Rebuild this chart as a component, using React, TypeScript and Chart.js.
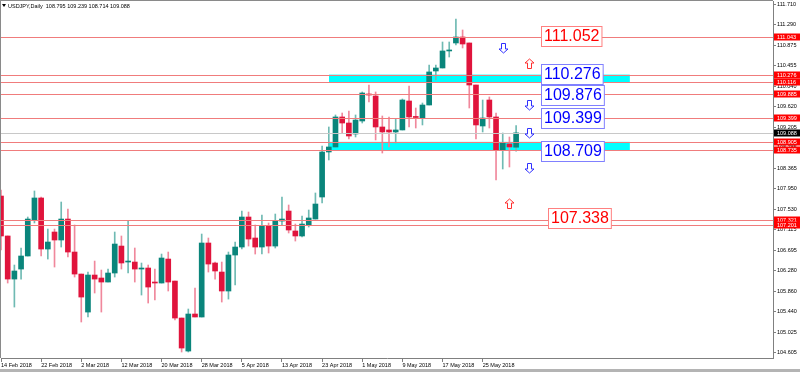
import React, { useEffect, useRef } from "react";
import { Chart, registerables } from "chart.js";

Chart.register(...registerables);

// ---- data ----
const dates = [
  "14 Feb 2018", "15 Feb 2018", "16 Feb 2018", "19 Feb 2018", "20 Feb 2018", "21 Feb 2018",
  "22 Feb 2018", "23 Feb 2018", "26 Feb 2018", "27 Feb 2018", "28 Feb 2018", "1 Mar 2018",
  "2 Mar 2018", "5 Mar 2018", "6 Mar 2018", "7 Mar 2018", "8 Mar 2018", "9 Mar 2018",
  "12 Mar 2018", "13 Mar 2018", "14 Mar 2018", "15 Mar 2018", "16 Mar 2018", "19 Mar 2018",
  "20 Mar 2018", "21 Mar 2018", "22 Mar 2018", "23 Mar 2018", "26 Mar 2018", "27 Mar 2018",
  "28 Mar 2018", "29 Mar 2018", "30 Mar 2018", "2 Apr 2018", "3 Apr 2018", "4 Apr 2018",
  "5 Apr 2018", "6 Apr 2018", "9 Apr 2018", "10 Apr 2018", "11 Apr 2018", "12 Apr 2018",
  "13 Apr 2018", "16 Apr 2018", "17 Apr 2018", "18 Apr 2018", "19 Apr 2018", "20 Apr 2018",
  "23 Apr 2018", "24 Apr 2018", "25 Apr 2018", "26 Apr 2018", "27 Apr 2018", "30 Apr 2018",
  "1 May 2018", "2 May 2018", "3 May 2018", "4 May 2018", "7 May 2018", "8 May 2018",
  "9 May 2018", "10 May 2018", "11 May 2018", "14 May 2018", "15 May 2018", "16 May 2018",
  "17 May 2018", "18 May 2018", "21 May 2018", "22 May 2018", "23 May 2018", "24 May 2018",
  "25 May 2018", "28 May 2018", "29 May 2018", "30 May 2018", "31 May 2018", "1 Jun 2018",
];

const opens = [
  107.800, 106.985, 106.107, 106.311, 106.577, 107.311, 107.760, 106.719, 107.066, 106.903,
  107.331, 106.658, 106.209, 105.434, 106.189, 106.128, 106.046, 106.230, 106.780, 106.454,
  106.454, 106.311, 106.332, 106.046, 106.026, 106.515, 106.066, 105.312, 104.639, 105.394,
  105.333, 106.842, 106.434, 106.250, 105.863, 106.597, 106.760, 107.372, 106.944, 106.760,
  107.189, 106.780, 107.290, 107.494, 107.087, 106.985, 107.209, 107.331, 107.780, 108.698,
  108.800, 109.412, 109.289, 109.065, 109.330, 109.881, 109.840, 109.208, 109.147, 109.106,
  109.147, 109.738, 109.412, 109.391, 109.656, 110.350, 110.411, 110.758, 110.921, 111.043,
  110.921, 110.064, 109.228, 109.758, 109.412, 108.739, 108.861, 108.795,
];
const highs = [
  107.923, 106.985, 106.393, 106.740, 107.372, 107.903, 107.780, 107.127, 107.127, 107.678,
  107.535, 107.209, 106.209, 106.250, 106.474, 106.291, 106.311, 107.066, 106.985, 107.290,
  106.740, 106.434, 106.393, 106.311, 106.617, 106.658, 106.066, 105.312, 105.496, 105.924,
  107.025, 106.944, 106.454, 106.454, 106.658, 106.862, 107.494, 107.474, 107.209, 107.413,
  107.250, 107.433, 107.780, 107.617, 107.229, 107.392, 107.515, 107.862, 108.820, 109.208,
  109.453, 109.493, 109.534, 109.453, 109.922, 110.064, 109.922, 109.432, 109.412, 109.371,
  109.779, 110.044, 109.595, 109.697, 110.472, 110.472, 110.941, 110.941, 111.410, 111.186,
  110.921, 110.064, 109.758, 109.820, 109.493, 109.085, 109.004, 109.239,
];
const lows = [
  106.699, 106.026, 105.536, 106.107, 106.577, 107.250, 106.577, 106.515, 106.352, 106.760,
  106.556, 106.148, 105.231, 105.333, 105.822, 105.434, 106.046, 106.148, 106.311, 106.230,
  106.046, 105.781, 105.618, 105.679, 106.026, 105.863, 105.271, 104.619, 104.619, 105.333,
  105.333, 106.250, 106.107, 105.638, 105.699, 105.985, 106.719, 106.780, 106.617, 106.617,
  106.638, 106.740, 107.209, 107.046, 106.882, 106.964, 107.168, 107.331, 107.658, 108.535,
  108.800, 109.085, 108.963, 109.004, 109.289, 109.718, 108.943, 108.677, 108.800, 108.881,
  109.147, 109.208, 109.187, 109.249, 109.656, 110.166, 110.411, 110.635, 110.880, 110.819,
  109.595, 108.963, 109.106, 109.187, 108.127, 108.351, 108.392, 108.714,
];
const closes = [
  106.985, 106.107, 106.271, 106.577, 107.331, 107.760, 106.719, 106.862, 106.903, 107.331,
  106.658, 106.209, 105.740, 106.189, 106.107, 106.046, 106.230, 106.821, 106.434, 106.464,
  106.311, 106.332, 105.944, 106.026, 106.536, 106.046, 105.312, 104.700, 105.394, 105.333,
  106.842, 106.413, 106.271, 105.863, 106.597, 106.760, 107.372, 106.923, 106.760, 107.189,
  106.780, 107.290, 107.331, 107.107, 106.985, 107.229, 107.352, 107.637, 108.698, 108.800,
  109.412, 109.289, 109.024, 109.350, 109.901, 109.860, 109.208, 109.106, 109.106, 109.147,
  109.758, 109.412, 109.402, 109.656, 110.330, 110.411, 110.758, 110.778, 111.043, 110.900,
  110.064, 109.249, 109.391, 109.412, 108.739, 108.881, 108.800, 109.088,
];

const xTickIdx = [0, 6, 12, 18, 24, 30, 36, 42, 48, 54, 60, 66, 72];
const priceTicks = [
  111.710, 111.290, 110.875, 110.455, 110.040, 109.620, 109.205, 108.785, 108.365,
  107.950, 107.530, 107.115, 106.695, 106.280, 105.860, 105.440, 105.025, 104.605,
];

const levelLines = [111.043, 110.276, 110.116, 109.885, 109.399, 108.905, 108.735, 107.321, 107.201];
const bidLine = 109.088;

const zoneHigh = [110.276, 108.905];
const zoneLow = [110.116, 108.735];
const zoneFrom = 49.03;
const zoneTo = 94.0;

const boxTexts = ["111.052", "110.276", "109.876", "109.399", "108.709", "107.338"];
const boxPrices = [111.064, 110.279, 109.860, 109.401, 108.718, 107.352];
const boxAt = [80.7, 80.7, 80.7, 80.7, 80.7, 81.8];
const boxRed = [true, false, false, false, false, true];

const arrowAt = [75, 79, 79, 79, 79, 76];
const arrowPrices = [110.819, 110.513, 109.656, 109.085, 108.371, 107.658];
const arrowUp = [false, true, false, false, false, true];

const title = "USDJPY,Daily  108.795 109.239 108.714 109.088";

const FONT = '"Liberation Sans", Arial, sans-serif';
const GREEN = "#0a857b";
const RED = "#e0143c";
const GREEN_WICK = "#6fbab3";
const RED_WICK = "#f0889c";

function drawArrow(ctx: CanvasRenderingContext2D, cx: number, cy: number, up: boolean, color: string) {
  const sw = 2, hw = 4.5;
  const s = up ? -1 : 1;
  const top = cy - 5 * s, neck = cy + 0.5 * s, tip = cy + 4.5 * s;
  ctx.beginPath();
  ctx.moveTo(cx - sw, top);
  ctx.lineTo(cx + sw, top);
  ctx.lineTo(cx + sw, neck);
  ctx.lineTo(cx + hw, neck);
  ctx.lineTo(cx, tip);
  ctx.lineTo(cx - hw, neck);
  ctx.lineTo(cx - sw, neck);
  ctx.closePath();
  ctx.fillStyle = "#ffffff";
  ctx.fill();
  ctx.strokeStyle = color;
  ctx.lineWidth = 1;
  ctx.stroke();
}

const overlay = {
  id: "overlay",
  beforeDatasetsDraw(chart: any) {
    const { ctx, chartArea: a, scales } = chart;
    const x = scales.x, y = scales.y;
    ctx.save();
    ctx.beginPath();
    ctx.rect(a.left, a.top, a.right - a.left, a.bottom - a.top);
    ctx.clip();
    ctx.fillStyle = "#00ffff";
    for (let k = 0; k < zoneHigh.length; k++) {
      const x1 = x.getPixelForValue(zoneFrom);
      const x2 = x.getPixelForValue(zoneTo);
      const y1 = y.getPixelForValue(zoneHigh[k]);
      const y2 = y.getPixelForValue(zoneLow[k]);
      ctx.fillRect(x1, y1, x2 - x1, y2 - y1);
    }
    ctx.restore();
  },
  afterDatasetsDraw(chart: any) {
    const { ctx, chartArea: a, scales } = chart;
    const x = scales.x, y = scales.y;
    ctx.save();
    ctx.beginPath();
    ctx.rect(a.left, a.top, a.right - a.left, a.bottom - a.top);
    ctx.clip();
    // bid line
    ctx.lineWidth = 1;
    ctx.strokeStyle = "#c8c8c8";
    let py = Math.round(y.getPixelForValue(bidLine)) + 0.5;
    ctx.beginPath();
    ctx.moveTo(a.left, py);
    ctx.lineTo(a.right, py);
    ctx.stroke();
    // level lines
    ctx.strokeStyle = "#f07c7c";
    for (const v of levelLines) {
      py = Math.round(y.getPixelForValue(v)) + 0.5;
      ctx.beginPath();
      ctx.moveTo(a.left, py);
      ctx.lineTo(a.right, py);
      ctx.stroke();
    }
    // arrows
    for (let k = 0; k < arrowAt.length; k++) {
      drawArrow(
        ctx,
        Math.round(x.getPixelForValue(arrowAt[k])) + 0.5,
        Math.round(y.getPixelForValue(arrowPrices[k])) + 0.5,
        arrowUp[k],
        arrowUp[k] ? "#ff3030" : "#3030ff"
      );
    }
    // boxed labels
    ctx.font = `16px ${FONT}`;
    ctx.textBaseline = "middle";
    ctx.textAlign = "left";
    for (let k = 0; k < boxTexts.length; k++) {
      const w = ctx.measureText(boxTexts[k]).width;
      const bx = Math.round(x.getPixelForValue(boxAt[k])) + 0.5;
      const cy = y.getPixelForValue(boxPrices[k]);
      const by = Math.round(cy - 10) + 0.5;
      ctx.fillStyle = "#ffffff";
      ctx.fillRect(bx, by, w + 5, 20);
      ctx.strokeStyle = boxRed[k] ? "#ff8080" : "#8080ff";
      ctx.strokeRect(bx, by, w + 5, 20);
      ctx.fillStyle = boxRed[k] ? "#ff0000" : "#0000ff";
      ctx.fillText(boxTexts[k], bx + 2.5, by + 10.5);
    }
    ctx.restore();
  },
  afterDraw(chart: any) {
    const { ctx, chartArea: a, scales, width, height } = chart;
    const y = scales.y;
    ctx.save();
    // price tags on the right axis
    ctx.font = `5.5px ${FONT}`;
    ctx.textBaseline = "middle";
    ctx.textAlign = "left";
    const tags = [...levelLines.map((v) => ({ v, c: "#ff0000" })), { v: bidLine, c: "#000000" }];
    for (const t of tags) {
      const cy = Math.round(y.getPixelForValue(t.v));
      ctx.fillStyle = t.c;
      ctx.fillRect(a.right + 1, cy - 3.5, width - a.right - 1, 7);
      ctx.fillStyle = "#ffffff";
      ctx.fillText(t.v.toFixed(3), a.right + 4, cy + 0.5);
    }
    // title
    ctx.fillStyle = "#000000";
    ctx.beginPath();
    ctx.moveTo(2, 4);
    ctx.lineTo(6, 4);
    ctx.lineTo(4, 7);
    ctx.closePath();
    ctx.fill();
    ctx.font = `5.5px ${FONT}`;
    ctx.fillText(title, 8, 6);
    // frame
    ctx.fillStyle = "#8a8a8a";
    ctx.fillRect(0, 0, a.right, 1);
    ctx.fillRect(0, 0, 1, a.bottom);
    ctx.fillStyle = "#b4b4b4";
    ctx.fillRect(0, height - 3, width, 3);
    ctx.restore();
  },
};

export default function App() {
  const ref = useRef<HTMLCanvasElement>(null);

  useEffect(() => {
    document.body.style.margin = "0";
    const canvas = ref.current;
    if (!canvas) return;
    const idx = dates.map((_, i) => i);
    const bull = idx.map((i) => closes[i] >= opens[i]);

    const chart = new Chart(canvas, {
      type: "bar",
      data: {
        datasets: [
          {
            label: "wick",
            data: idx.map((i) => ({ x: i, y: [lows[i], highs[i]] })) as any,
            backgroundColor: idx.map((i) => (bull[i] ? GREEN_WICK : RED_WICK)),
            barThickness: 1,
            grouped: false,
            borderWidth: 0,
            order: 2,
          },
          {
            label: "body",
            data: idx.map((i) => ({ x: i, y: [opens[i], closes[i]] })) as any,
            backgroundColor: idx.map((i) => (bull[i] ? GREEN : RED)),
            barThickness: 5,
            minBarLength: 1,
            grouped: false,
            borderWidth: 0,
            order: 1,
          },
        ],
      },
      options: {
        animation: false,
        responsive: false,
        maintainAspectRatio: false,
        layout: { padding: { left: 1, top: 1, right: 0, bottom: 0 } },
        plugins: { legend: { display: false }, tooltip: { enabled: false } },
        scales: {
          x: {
            type: "linear",
            min: 0,
            max: 115.4,
            offset: false,
            afterBuildTicks: (s: any) => {
              s.ticks = xTickIdx.map((v) => ({ value: v }));
            },
            afterFit: (s: any) => {
              s.height = 14;
              s.paddingLeft = 0;
              s.paddingRight = 0;
            },
            ticks: {
              autoSkip: false,
              maxRotation: 0,
              minRotation: 0,
              align: "start",
              padding: 0,
              color: "#000000",
              font: { size: 5.5, family: FONT },
              callback: (v: any) => dates[v as number] ?? "",
            },
            grid: { drawOnChartArea: false, offset: false, tickLength: 4, color: "#808080" },
            border: { display: true, color: "#808080" },
          } as any,
          y: {
            position: "right",
            min: 104.497,
            max: 111.777,
            beginAtZero: false,
            afterBuildTicks: (s: any) => {
              s.ticks = priceTicks.map((v) => ({ value: v }));
            },
            afterFit: (s: any) => {
              s.width = 27;
              s.paddingTop = 0;
              s.paddingBottom = 0;
            },
            ticks: {
              autoSkip: false,
              padding: 1,
              color: "#000000",
              font: { size: 5.5, family: FONT },
              callback: (v: any) => Number(v).toFixed(3),
            },
            grid: { drawOnChartArea: false, tickLength: 3, color: "#808080" },
            border: { display: true, color: "#808080" },
          } as any,
        },
      },
      plugins: [overlay],
    });
    return () => chart.destroy();
  }, []);

  return (
    <canvas
      ref={ref}
      width={800}
      height={372}
      style={{ display: "block", width: 800, height: 372, background: "#ffffff" }}
    />
  );
}
